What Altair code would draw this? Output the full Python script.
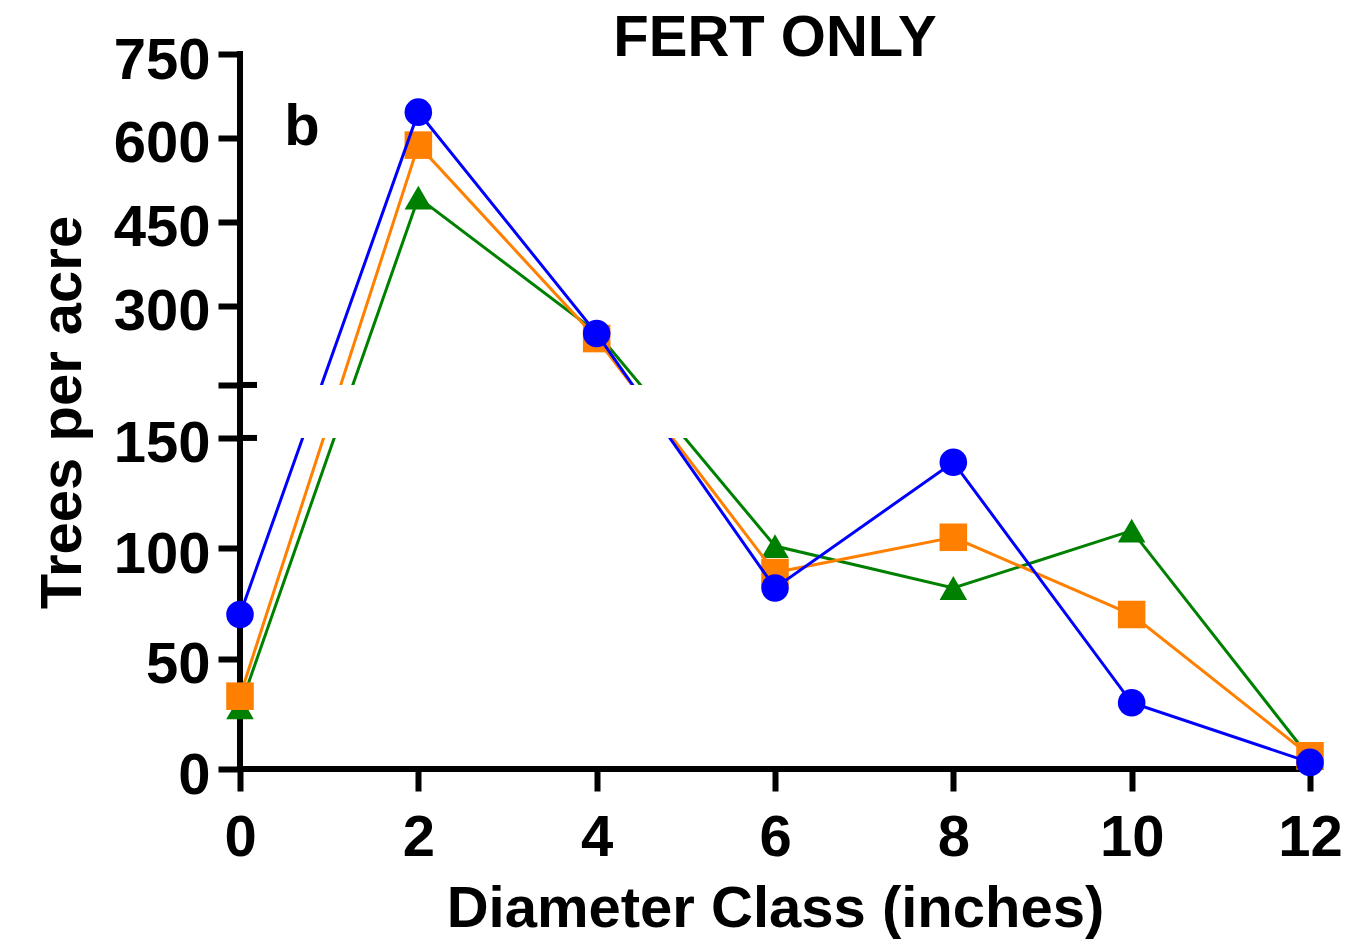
import altair as alt
import pandas as pd

# ---- data ----
diameter = [0, 2, 4, 6, 8, 10, 12]
blue_vals = [70, 646, 250, 82, 139, 30, 3]
orange_vals = [33, 587, 241, 89, 105, 70, 6]
green_vals = [28, 493, 252, 101, 82, 108, 5]
series_names = ["Green", "Orange", "Blue"]
series_colors = {"Green": "#008000", "Orange": "#FF8000", "Blue": "#0000FF"}
series_shapes = {"Green": "triangle-up", "Orange": "square", "Blue": "circle"}

lower_ticks = [0, 50, 100, 150]
upper_ticks = [300, 450, 600, 750]

# ---- broken axis transform ----
LOW_TOP = 150      # top of lower segment
UP_BOT = 158       # bottom of upper segment
GAP_TOP = 174      # transformed position of upper segment bottom
UP_SLOPE = 0.2533  # compression of upper segment
Y_MAX = GAP_TOP + (750 - UP_BOT) * UP_SLOPE


def yt(v):
    if v <= LOW_TOP:
        return float(v)
    return GAP_TOP + (v - UP_BOT) * UP_SLOPE


rows = []
for name, vals in zip(["Blue", "Orange", "Green"], [blue_vals, orange_vals, green_vals]):
    for d, v in zip(diameter, vals):
        rows.append({"series": name, "d": d, "v": v, "yt": yt(v)})
df = pd.DataFrame(rows)

tick_pos = [float(t) for t in lower_ticks] + [round(yt(t), 4) for t in upper_ticks] + [float(GAP_TOP)]
tick_lab = [str(t) for t in lower_ticks] + [str(t) for t in upper_ticks] + [""]
expr = "''"
for p, l in zip(tick_pos, tick_lab):
    expr = f"round(datum.value*100)=={round(p*100)} ? '{l}' : " + expr

FONT = "Liberation Sans"
W, H = 1070, 715

xenc = alt.X(
    "d:Q",
    scale=alt.Scale(domain=[0, 12], nice=False, zero=False),
    axis=alt.Axis(
        values=diameter, format="d", title="Diameter Class (inches)", domain=False, grid=False,
        tickSize=22, tickWidth=6, tickColor="black",
        labelFont=FONT, labelFontSize=58, labelFontWeight="bold", labelColor="black",
        labelBaseline="alphabetic", labelPadding=64, labelFlush=False,
        titleFont=FONT, titleFontSize=58, titleFontWeight="bold", titleColor="black",
        titleX=535, titleY=157, titleBaseline="alphabetic", titleAlign="center", titleAnchor="middle",
    ),
)


def yenc(field="yt:Q"):
    return alt.Y(
        field,
        scale=alt.Scale(domain=[0, Y_MAX], nice=False, zero=False),
        axis=alt.Axis(
            values=tick_pos, labelExpr=expr, title="Trees per acre", domain=False, grid=False,
            tickSize=22, tickWidth=6, tickColor="black",
            labelFont=FONT, labelFontSize=58, labelFontWeight="bold", labelColor="black",
            labelBaseline="alphabetic", labelOffset=24, labelPadding=8, labelFlush=False,
            labelOverlap=False,
            titleFont=FONT, titleFontSize=58, titleFontWeight="bold", titleColor="black",
            titleX=-160, titleY=358, titleAngle=270, titleBaseline="alphabetic",
            titleAlign="center", titleAnchor="middle",
        ),
    )


one = pd.DataFrame({"a": [0]})

yaxis_line = alt.Chart(one).mark_rule(color="black", strokeWidth=6, strokeCap="square").encode(
    x=alt.datum(0), y=alt.datum(0), y2=alt.datum(Y_MAX)
)
xaxis_line = alt.Chart(one).mark_rule(color="black", strokeWidth=6, strokeCap="square").encode(
    y=alt.datum(0), x=alt.datum(0), x2=alt.datum(12)
)

layers = [yaxis_line, xaxis_line]
for name in series_names:
    sub = df[df.series == name]
    base = alt.Chart(sub)
    layers.append(base.mark_line(color=series_colors[name], strokeWidth=3).encode(x=xenc, y=yenc()))
    layers.append(
        base.mark_point(shape=series_shapes[name], filled=True, opacity=1,
                        color=series_colors[name], size=760).encode(x=xenc, y=yenc())
    )

gap = alt.Chart(one).mark_rect(color="white").encode(
    y=alt.datum(LOW_TOP), y2=alt.datum(GAP_TOP), x=alt.value(3), x2=alt.value(W + 5)
)
gap_ticks = alt.Chart(pd.DataFrame({"t": [LOW_TOP, GAP_TOP]})).mark_rule(color="black", strokeWidth=6).encode(
    y=yenc("t:Q"),
    x=alt.value(-3), x2=alt.value(17),
)

title_txt = alt.Chart(pd.DataFrame({"label": ["FERT ONLY"]})).mark_text(
    font=FONT, fontSize=58, fontWeight="bold", color="black", align="center", baseline="alphabetic"
).encode(text="label:N", x=alt.value(W / 2), y=alt.value(2))

b_txt = alt.Chart(pd.DataFrame({"label": ["b"]})).mark_text(
    font=FONT, fontSize=58, fontWeight="bold", color="black", align="center", baseline="alphabetic"
).encode(text="label:N", x=alt.value(62), y=alt.value(91))

chart = alt.layer(*layers, gap, gap_ticks, title_txt, b_txt).properties(
    width=W, height=H,
    autosize=alt.AutoSizeParams(type="none"),
    padding={"left": 240, "top": 54, "right": 46, "bottom": 183},
    background="white",
).configure_view(stroke=None)

chart.save("out.html", embed_options={"renderer": "svg", "actions": False})
